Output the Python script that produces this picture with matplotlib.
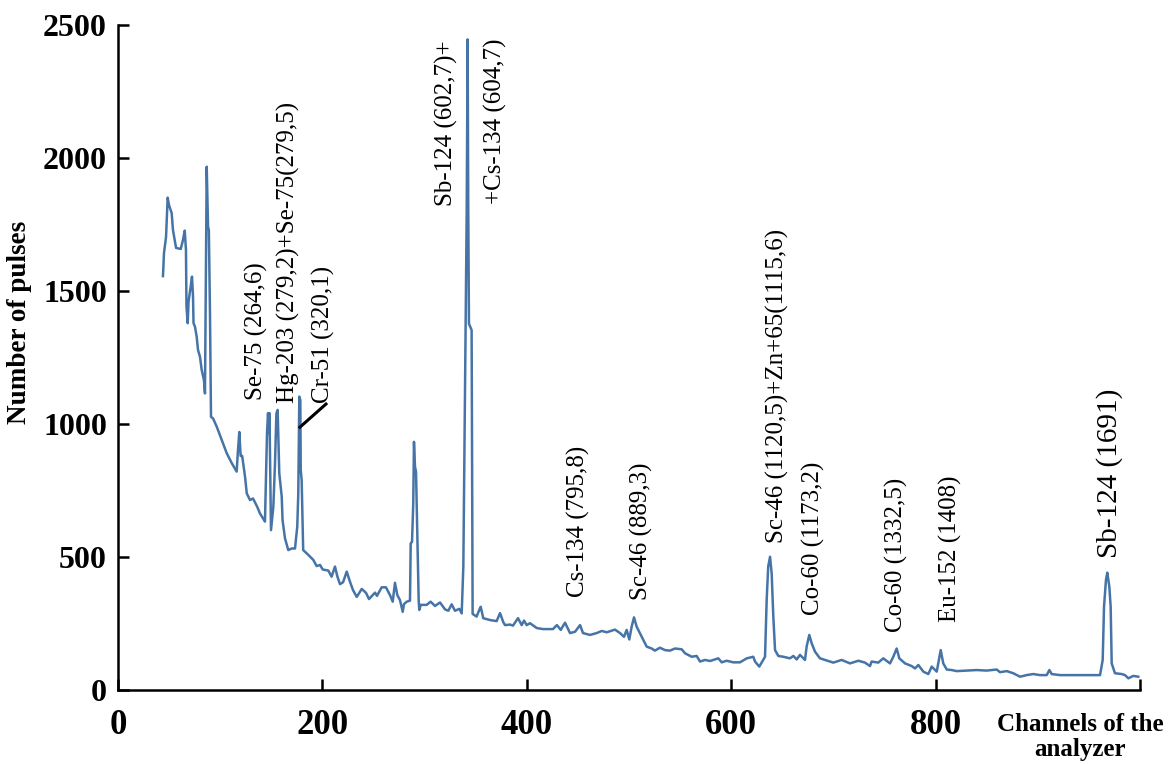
import matplotlib
matplotlib.use("Agg")
import matplotlib.pyplot as plt

# ---- data ----
channels = [44, 45, 47, 48.6, 49.9, 52.5, 53.8, 56.8, 61.4, 63.6,
            65.3, 66.5, 67.0, 68.2, 69.0, 71.1, 72.4, 73.4, 73.9, 75.3,
            77.0, 78.3, 80.2, 81.9, 84.1, 85.1, 86.8, 88.1, 88.9, 90.0,
            91.0, 93.0, 96.6, 101.5, 106.4, 111.3, 116.1, 117.4, 118.7, 120.0,
            121.5, 124.3, 126.0, 129.2, 132.1, 136.2, 138.9, 143.8, 145.8, 146.8,
            147.6, 148.2, 149.7, 152.0, 153.6, 155.0, 156.2, 157.8, 160.2, 161.0,
            163.4, 166.6, 170.0, 173.2, 175.4, 176.4, 177.4, 178.4, 178.8, 179.7,
            180.6, 181.2, 184.6, 186.2, 191.1, 194.4, 197.7, 200.3, 205.8, 209.0,
            212.3, 214.7, 217.2, 220.2, 223.8, 227.0, 229.9, 233.6, 238.5, 242.7,
            245.6, 251.5, 253.4, 258.0, 262.2, 266.1, 268.8, 271.0, 273.3, 275.9,
            278.6, 279.8, 282.5, 285.7, 286.4, 287.7, 288.9, 289.6, 290.6, 291.6,
            292.3, 293.2, 294.2, 294.8, 296.2, 302.0, 305.9, 310.2, 315.1, 320.0,
            323.2, 326.5, 329.7, 334.0, 336.3, 337.9, 338.6, 339.5, 340.2, 341.2,
            342.1, 342.7, 343.4, 346.0, 346.6, 347.0, 350.9, 353.5, 354.9, 357.4,
            364.0, 370.5, 373.8, 377.0, 378.7, 383.6, 386.5, 391.4, 395.0, 397.3,
            399.9, 403.1, 409.7, 415.9, 425.6, 429.5, 433.2, 437.4, 442.3, 447.2,
            452.1, 455.0, 461.8, 468.4, 473.3, 478.2, 486.3, 491.2, 495.1, 497.7,
            500.3, 502.6, 504.9, 507.5, 510.8, 514.0, 517.3, 522.2, 525.4, 530.3,
            535.2, 540.1, 545.0, 551.6, 554.8, 561.4, 566.2, 569.5, 574.4, 579.3,
            587.4, 590.7, 595.6, 602.0, 608.6, 615.2, 621.6, 623.3, 627.5, 633.1,
            634.7, 636.2, 638.0, 639.6, 641.2, 642.9, 646.1, 651.0, 657.5, 660.8,
            664.1, 667.3, 672.2, 673.8, 676.4, 678.8, 682.0, 686.9, 691.8, 699.9,
            708.1, 716.2, 724.4, 730.9, 735.8, 737.4, 743.9, 748.8, 755.4, 758.6,
            761.9, 764.5, 770.1, 776.6, 779.8, 783.1, 788.0, 792.9, 796.2, 801.1,
            805.0, 807.5, 810.9, 815.8, 820.6, 830.4, 840.2, 850.0, 859.8, 863.0,
            869.6, 876.0, 882.6, 889.1, 895.6, 902.2, 908.7, 911.3, 913.6, 921.7,
            960.9, 963.5, 964.8, 966.7, 968.0, 970.0, 971.3, 972.3, 975.5, 982.1,
            985.3, 988.6, 993.4, 998.3]

counts = [1556, 1643, 1703, 1851, 1823, 1793, 1729, 1662, 1658, 1692,
          1727, 1654, 1441, 1379, 1460, 1516, 1554, 1479, 1379, 1366,
          1328, 1278, 1253, 1203, 1165, 1115, 1967, 1742, 1729, 1417,
          1027, 1021, 990, 940, 890, 853, 821, 902, 970, 880,
          880, 802, 739, 714, 720, 689, 664, 633, 966, 1041,
          966, 1041, 601, 689, 850, 1040, 1053, 815, 727, 639,
          570, 526, 532, 532, 614, 739, 1103, 1090, 827, 790,
          627, 526, 514, 508, 489, 466, 470, 453, 449, 426,
          464, 426, 398, 405, 445, 407, 376, 350, 380, 365,
          342, 366, 354, 386, 386, 357, 332, 403, 357, 338,
          294, 323, 332, 336, 551, 557, 702, 933, 839, 821,
          689, 539, 338, 301, 320, 320, 332, 316, 329, 303,
          298, 322, 298, 305, 288, 464, 740, 1115, 1361, 1798,
          2446, 1814, 1377, 1353, 644, 286, 276, 301, 313, 270,
          263, 259, 289, 255, 244, 246, 242, 270, 244, 261,
          244, 251, 233, 229, 229, 244, 226, 253, 214, 219,
          244, 214, 207, 214, 222, 217, 227, 214, 200, 226,
          190, 238, 273, 238, 213, 188, 163, 156, 148, 159,
          150, 148, 156, 153, 138, 125, 128, 107, 113, 109,
          119, 104, 110, 104, 104, 119, 125, 107, 88, 125,
          338, 464, 501, 438, 276, 150, 128, 125, 119, 128,
          115, 132, 113, 163, 207, 175, 144, 119, 113, 103,
          113, 100, 110, 103, 90, 107, 103, 119, 100, 125,
          156, 119, 100, 90, 81, 94, 69, 60, 88, 69,
          150, 100, 77, 75, 71, 73, 75, 73, 77, 67,
          71, 63, 50, 56, 60, 56, 56, 75, 60, 56,
          56, 113, 313, 414, 441, 388, 313, 100, 63, 60,
          56, 44, 53, 50]

x_ticks = [0, 200, 400, 600, 800, 1000]
x_tick_labels = ["0", "200", "400", "600", "800", ""]
y_ticks = [0, 500, 1000, 1500, 2000, 2500]
y_tick_labels = ["0", "500", "1000", "1500", "2000", "2500"]

peak_labels = ["Se-75 (264,6)", "Hg-203 (279,2)+Se-75(279,5)", "Cr-51 (320,1)",
               "Sb-124 (602,7)+", "+Cs-134 (604,7)", "Cs-134 (795,8)",
               "Sc-46 (889,3)", "Sc-46 (1120,5)+Zn+65(1115,6)", "Co-60 (1173,2)",
               "Co-60 (1332,5)", "Eu-152 (1408)", "Sb-124 (1691)"]
# label anchor (bottom-centre of rotated text), in data units
label_x = [135.0, 166.3, 200.6, 321.0, 368.9, 451.0, 511.7, 644.8, 680.0, 762.0, 815.0, 970.6]
label_y = [1090, 1079, 1079, 1820, 1827, 350, 338, 553, 282, 218, 256, 496]
label_size = [18, 18, 18, 18, 18, 18, 18, 18, 18, 18, 18, 21]

serif = ["Liberation Serif", "DejaVu Serif"]

fig = plt.figure(figsize=(11.7, 7.64), dpi=100)
ax = fig.add_axes([118 / 1170, 74 / 764, 1022 / 1170, 665 / 764])

ax.plot(channels, counts, color="#4674a6", lw=1.8, solid_joinstyle="round")

ax.set_xlim(0, 1000)
ax.set_ylim(0, 2500)
for s in ("top", "right"):
    ax.spines[s].set_visible(False)
for s in ("left", "bottom"):
    ax.spines[s].set_linewidth(1.8)
    ax.spines[s].set_color("black")

ax.set_xticks(x_ticks)
ax.set_xticklabels(x_tick_labels, family=serif, fontweight="bold", fontsize=25)
ax.set_yticks(y_ticks)
ax.set_yticklabels(y_tick_labels, family=serif, fontweight="bold", fontsize=23)
ax.tick_params(axis="both", direction="in", length=8, width=1.8, color="black")
ax.tick_params(axis="x", pad=14)
ax.tick_params(axis="y", pad=8)

for lab, lx, ly, fs in zip(peak_labels, label_x, label_y, label_size):
    ax.text(lx, ly, lab, rotation=90, ha="center", va="bottom",
            fontsize=fs, family=serif, color="black")

# leader line for Cr-51
ax.plot([178, 203.5], [988, 1075], color="black", lw=2.2)

fig.text(20 / 1170, 1 - 322 / 764, "Number of pulses", rotation=90,
         ha="center", va="center", fontsize=19.5, fontweight="bold", family=serif)
fig.text(1080 / 1170, 1 - 737 / 764, "Channels of the\nanalyzer",
         ha="center", va="center", fontsize=18, fontweight="bold", family=serif,
         linespacing=1.15)

fig.savefig("out.png", dpi=100)
